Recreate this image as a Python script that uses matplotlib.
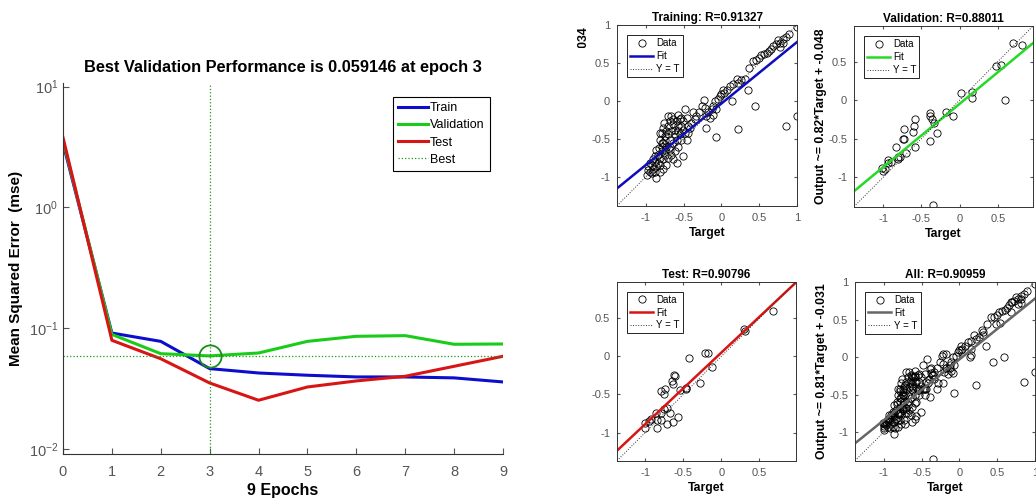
import matplotlib
matplotlib.use("Agg")
import matplotlib.pyplot as plt
from matplotlib.transforms import Bbox
from matplotlib.ticker import NullLocator, FixedLocator

plt.rcParams['font.family'] = ['Liberation Sans', 'DejaVu Sans']
plt.rcParams['mathtext.fontset'] = 'custom'
plt.rcParams['mathtext.rm'] = 'Liberation Sans'
plt.rcParams['mathtext.it'] = 'Liberation Sans:italic'
plt.rcParams['mathtext.bf'] = 'Liberation Sans:bold'

# --- performance data ---
epochs = [0, 1, 2, 3, 4, 5, 6, 7, 8, 9]
mse_train = [3.4, 0.0914, 0.078, 0.0464, 0.0427, 0.0409, 0.0396, 0.0396, 0.0389, 0.036]
mse_val = [3.6, 0.089, 0.0617, 0.059146, 0.0625, 0.078, 0.0859, 0.087, 0.0738, 0.0742]
mse_test = [3.8, 0.0796, 0.056, 0.0353, 0.0254, 0.0327, 0.0367, 0.0401, 0.0485, 0.0587]
best_epoch = 3
best_val = 0.059146

# --- regression data: target, output ---
train_t = [1.0, 0.90, 0.86, 0.81, 0.77, 0.72, 0.68, 0.66, 0.63, 0.60, 0.57, 0.53, 0.50, 0.46, 0.42, 0.37,
           0.75, 0.81, 0.77, 1.0, 0.86, 0.45, 0.22, -0.07, 0.14, 0.35,
           0.31, 0.26, 0.22, 0.20, 0.15, 0.11, 0.07, 0.02, 0.04, 0.0, -0.02, -0.04, -0.09, -0.11, -0.13,
           -0.18, -0.20, -0.22, -0.23, -0.26, -0.29, -0.33, -0.35, -0.37, -0.40, -0.44, -0.46, -0.48,
           -0.21, -0.11, -0.07, -0.15,
           -0.55, -0.59, -0.57, -0.62, -0.64, -0.66, -0.68, -0.70, -0.73, -0.75, -0.77, -0.79, -0.81,
           -0.77, -0.73, -0.68, -0.64, -0.59, -0.55, -0.51, -0.53, -0.57, -0.62, -0.66, -0.70, -0.75,
           -0.79, -0.81, -0.84, -0.86, -0.88, -0.90, -0.92, -0.95, -0.97, -0.99, -0.86, -0.59, -0.51,
           -0.64, -0.73, -0.77, -0.81, -0.68, -0.74, -0.78, -0.82, -0.84, -0.88, -0.62, -0.66, -0.58,
           -0.54, -0.64, -0.70, -0.76, -0.81, -0.48, -0.46, -0.44, -0.42, -0.57, -0.53, -0.51, -0.70,
           -0.75, -0.79, -0.86, -0.90, -0.95, -0.97, -0.92, -0.88, -0.77, -0.81, -0.68]
train_y = [0.97, 0.88, 0.84, 0.81, 0.77, 0.75, 0.73, 0.69, 0.66, 0.63, 0.62, 0.60, 0.56, 0.54, 0.53, 0.44,
           0.80, 0.77, 0.71, -0.20, -0.33, -0.07, -0.37, -0.48, 0.0, 0.15,
           0.29, 0.27, 0.24, 0.29, 0.22, 0.20, 0.15, 0.15, 0.11, 0.09, 0.07, 0.02, 0.0, -0.07, -0.11,
           -0.15, -0.20, -0.09, 0.01, -0.07, -0.15, -0.20, -0.24, -0.15, -0.29, -0.33, -0.22, -0.11,
           -0.35, -0.18, -0.11, -0.22,
           -0.24, -0.27, -0.33, -0.38, -0.31, -0.20, -0.27, -0.33, -0.40, -0.46, -0.35, -0.42, -0.51,
           -0.55, -0.60, -0.64, -0.55, -0.51, -0.44, -0.38, -0.51, -0.60, -0.66, -0.71, -0.75, -0.71,
           -0.66, -0.75, -0.82, -0.86, -0.80, -0.89, -0.84, -0.93, -0.91, -0.97, -1.02, -0.82, -0.73,
           -0.77, -0.84, -0.89, -0.93, -0.51, -0.64, -0.60, -0.62, -0.71, -0.73, -0.44, -0.40, -0.19,
           -0.22, -0.24, -0.20, -0.29, -0.42, -0.42, -0.51, -0.42, -0.35, -0.40, -0.33, -0.27, -0.44,
           -0.51, -0.55, -0.64, -0.77, -0.82, -0.86, -0.95, -0.93, -0.77, -0.84, -0.60]

val_t = [0.70, 0.82, 0.48, 0.54, 0.59, 0.02, 0.16, 0.16, -0.18, -0.09, -0.39, -0.38, -0.36, -0.34, -0.30,
         -0.39, -0.58, -0.59, -0.61, -0.58, -0.72, -0.74, -0.72, -0.70, -0.83, -0.80, -0.81, -0.78, -0.93,
         -0.93, -1.01, -1.00, -0.97, -0.35, -0.90]
val_y = [0.74, 0.72, 0.44, 0.46, 0.00, 0.09, 0.11, 0.03, -0.15, -0.21, -0.16, -0.21, -0.24, -0.29, -0.43,
         -0.53, -0.25, -0.33, -0.41, -0.61, -0.37, -0.50, -0.50, -0.68, -0.60, -0.73, -0.76, -0.74, -0.77,
         -0.82, -0.88, -0.92, -0.89, -1.36, -0.80]

test_t = [0.68, 0.30, 0.31, -0.43, -0.21, -0.17, -0.12, -0.28, -0.47, -0.46, -0.54, -0.62, -0.61, -0.65,
          -0.63, -0.79, -0.74, -0.75, -0.71, -0.75, -0.68, -0.86, -0.79, -0.57, -0.63, -0.72, -0.79, -0.85,
          -0.93, -1.00, -1.00, -0.85, -0.95]
test_y = [0.60, 0.36, 0.33, -0.02, 0.04, 0.04, -0.14, -0.35, -0.42, -0.43, -0.44, -0.25, -0.26, -0.33,
          -0.36, -0.45, -0.43, -0.50, -0.68, -0.69, -0.74, -0.74, -0.75, -0.79, -0.86, -0.89, -0.84, -0.83,
          -0.82, -0.88, -0.94, -0.94, -0.85]

all_t = train_t + val_t + test_t
all_y = train_y + val_y + test_y

fits = {"train": (0.81, -0.034), "val": (0.82, -0.048), "test": (0.94, 0.05), "all": (0.81, -0.031)}
r_values = {"train": "0.91327", "val": "0.88011", "test": "0.90796", "all": "0.90959"}

tick_gray = '#555555'

fig = plt.figure(figsize=(10.36, 5.03), dpi=100)

# ----- left: performance -----
ax = fig.add_axes([0.0608, 0.0974, 0.4247, 0.7376])
ax.semilogy(epochs, mse_train, color=(0.05, 0.05, 0.8), lw=2.2, label='Train')
ax.semilogy(epochs, mse_val, color=(0.1, 0.8, 0.1), lw=2.2, label='Validation')
ax.semilogy(epochs, mse_test, color=(0.85, 0.08, 0.08), lw=2.2, label='Test')
ax.axvline(best_epoch, color=(0.1, 0.6, 0.1), ls=':', lw=0.9, label='Best')
ax.axhline(best_val, color=(0.1, 0.6, 0.1), ls=':', lw=0.9)
ax.plot([best_epoch], [best_val], 'o', ms=16, mfc='none', mec=(0.1, 0.55, 0.1), mew=1.3)
ax.set_xlim(0, 9)
ax.set_ylim(10 ** -2.04, 10 ** 1.03)
ax.set_xticks(epochs)
ax.yaxis.set_major_locator(FixedLocator([0.01, 0.1, 1, 10]))
ax.yaxis.set_minor_locator(NullLocator())
ax.tick_params(direction='in', labelsize=10.5, colors=tick_gray, length=4)
ax.tick_params(axis='x', pad=8)
for s in ['top', 'right']:
    ax.spines[s].set_visible(False)
for s in ['left', 'bottom']:
    ax.spines[s].set_color('#333333')
ax.set_title('Best Validation Performance is 0.059146 at epoch 3', fontsize=11.8, fontweight='bold', pad=8)
ax.set_xlabel('9 Epochs', fontsize=11.5, fontweight='bold', labelpad=3)
ax.set_ylabel('Mean Squared Error  (mse)', fontsize=11, fontweight='bold', labelpad=4)
leg = ax.legend(loc='upper right', bbox_to_anchor=(0.97, 0.962), borderaxespad=0, fontsize=9,
                fancybox=False, framealpha=1, edgecolor='black', handlelength=2.4, borderpad=0.4,
                labelspacing=0.42, handletextpad=0.2)
leg.get_frame().set_linewidth(0.8)


def regression(rect, t, y, key, color, title, ylabel, lim, yticks):
    a = fig.add_axes(rect)
    a.plot(t, y, 'o', ms=5.2, mfc='none', mec='black', mew=0.6, label='Data')
    slope, icpt = fits[key]
    xs = [lim[0], lim[1]]
    a.plot(xs, [slope * v + icpt for v in xs], color=color, lw=1.8, label='Fit')
    a.plot(xs, xs, ':', color='#333333', lw=0.7, label='Y = T')
    a.set_xlim(lim)
    a.set_ylim(lim)
    xt = [-1, -0.5, 0, 0.5, 1] if lim[1] >= 0.99 else [-1, -0.5, 0, 0.5]
    a.set_xticks(xt)
    a.set_xticklabels([('%g' % v) for v in xt])
    a.set_yticks(yticks)
    a.set_yticklabels([('%g' % v) for v in yticks])
    a.tick_params(direction='in', labelsize=8, colors=tick_gray, length=2.5, top=True, right=True, pad=5)
    for s in a.spines.values():
        s.set_color('#333333')
        s.set_linewidth(0.7)
    a.set_title(title, fontsize=8.5, fontweight='bold', pad=3)
    a.set_xlabel('Target', fontsize=8.8, fontweight='bold', labelpad=3)
    lab = a.set_ylabel(ylabel, fontsize=8.8, fontweight='bold', labelpad=0.5)
    lg = a.legend(loc='upper left', bbox_to_anchor=(0.056, 0.944), borderaxespad=0, fontsize=7,
                  fancybox=False, framealpha=1, edgecolor='black', handlelength=2.4, borderpad=0.3,
                  labelspacing=0.3, handletextpad=0.3)
    lg.get_frame().set_linewidth(0.6)
    return a, lab


a1, lab1 = regression([0.5956, 0.591, 0.1737, 0.3592], train_t, train_y, 'train', (0.05, 0.05, 0.75),
                      'Training: R=' + r_values['train'], 'Output ~= 0.81*Target + -0.034',
                      (-1.38, 1.0), [-1, -0.5, 0, 0.5, 1])
# the picture only shows the end of this label
lab1.set_clip_box(Bbox.from_extents(560, 455, 604, 503))
lab1.set_clip_on(True)

regression([0.8243, 0.589, 0.1728, 0.3592], val_t, val_y, 'val', (0.15, 0.85, 0.15),
           'Validation: R=' + r_values['val'], 'Output ~= 0.82*Target + -0.048',
           (-1.38, 0.96), [-1, -0.5, 0, 0.5])
regression([0.5956, 0.0841, 0.1728, 0.3559], test_t, test_y, 'test', (0.85, 0.08, 0.08),
           'Test: R=' + r_values['test'], '', (-1.37, 0.98), [-1, -0.5, 0, 0.5])
regression([0.8253, 0.0841, 0.1737, 0.3552], all_t, all_y, 'all', (0.4, 0.4, 0.4),
           'All: R=' + r_values['all'], 'Output ~= 0.81*Target + -0.031',
           (-1.38, 1.0), [-1, -0.5, 0, 0.5, 1])

fig.savefig('out.png', dpi=100)
